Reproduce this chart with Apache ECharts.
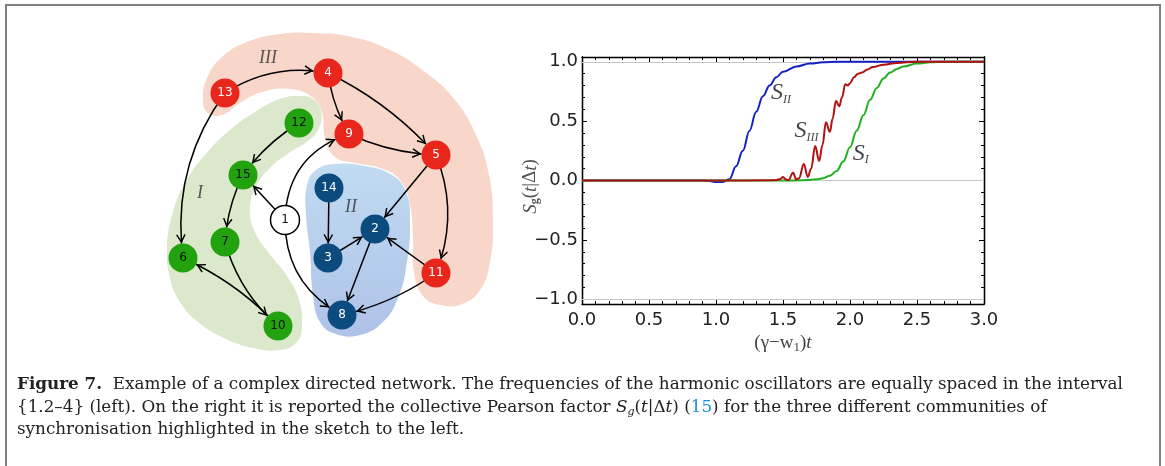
<!DOCTYPE html>
<html>
<head>
<meta charset="utf-8">
<script src="https://cdn.jsdelivr.net/npm/echarts@6/dist/echarts.min.js"></script>
<style>
html, body { margin: 0; padding: 0; background: #fff; }
#chart { width: 1165px; height: 466px; }
</style>
</head>
<body>
<div id="chart"></div>
<script>
// ---- right panel: collective Pearson factor S_g(t|dt) per community ----
const sIIx = [0, 0.5, 0.9, 0.95, 1.0, 1.05, 1.1, 1.15, 1.2, 1.25, 1.3, 1.35, 1.4, 1.45, 1.5, 1.6, 1.7, 1.8, 1.9, 2.2, 3.0];
const sIIy = [0, 0, 0, -0.004, -0.013, -0.012, 0.01, 0.12, 0.25, 0.42, 0.58, 0.71, 0.8, 0.87, 0.915, 0.96, 0.985, 0.995, 1.0, 1.0, 1.0];

const sIx = [0, 1.5, 1.65, 1.7, 1.75, 1.8, 1.85, 1.9, 1.95, 2.0, 2.05, 2.1, 2.15, 2.2, 2.25, 2.3, 2.35, 2.4, 2.5, 2.6, 2.7, 3.0];
const sIy = [0, 0, 0.002, 0.005, 0.01, 0.02, 0.04, 0.08, 0.16, 0.28, 0.42, 0.55, 0.68, 0.78, 0.86, 0.91, 0.94, 0.96, 0.985, 0.995, 1.0, 1.0];

const sIIIx = [0, 1.0, 1.4, 1.45, 1.48, 1.5, 1.52, 1.54, 1.575, 1.6, 1.62, 1.655, 1.685, 1.71, 1.74, 1.77, 1.795, 1.82, 1.85, 1.87, 1.895, 1.92, 1.94, 1.965, 1.985, 2.0, 2.03, 2.06, 2.09, 2.13, 2.17, 2.25, 2.35, 2.5, 3.0];
const sIIIy = [0, 0, 0.002, 0.004, 0.012, 0.03, 0.01, 0.002, 0.065, 0.008, 0.02, 0.14, 0.03, 0.1, 0.29, 0.165, 0.3, 0.49, 0.41, 0.52, 0.67, 0.625, 0.7, 0.81, 0.8, 0.82, 0.87, 0.9, 0.91, 0.935, 0.955, 0.975, 0.99, 1.0, 1.0];

const yMajor = [-1, -0.5, 0, 0.5, 1];
const yMinor = [-1, -0.9, -0.8, -0.7, -0.6, -0.5, -0.4, -0.3, -0.2, -0.1, 0, 0.1, 0.2, 0.3, 0.4, 0.5, 0.6, 0.7, 0.8, 0.9, 1];
const refLines = [1, 0, -1];

// curve labels: subscript, x, y
const curveLabelKey = ['II', 'III', 'I'];
const curveLabelX = [1.41, 1.585, 2.02];
const curveLabelY = [0.74, 0.42, 0.23];

// ---- left panel: directed network ----
const nodeIds = ['13', '4', '12', '9', '5', '15', '14', '1', '2', '7', '6', '3', '11', '8', '10'];
const nodeX = [225, 328, 299, 349, 436, 243, 329, 285, 375, 225, 183, 328, 436, 342, 278];
const nodeY = [93, 73, 123, 134, 155, 175, 188, 220, 229, 242, 258, 258, 273, 315, 326];
const nodeGroup = ['III', 'III', 'I', 'III', 'III', 'I', 'II', '-', 'II', 'I', 'I', 'II', 'III', 'II', 'I'];

const edgeFrom = ['13', '13', '4', '4', '9', '12', '15', '1', '1', '1', '14', '3', '5', '2', '11', '11', '5', '7', '10'];
const edgeTo   = ['4', '6', '9', '5', '5', '15', '7', '15', '9', '8', '3', '2', '2', '8', '2', '8', '11', '10', '6'];
const edgeBend = [0.2, -0.2, -0.1, 0.1, -0.1, -0.1, -0.1, 0, 0.35, -0.3, 0, 0, 0, 0, 0, 0.1, 0.2, -0.15, -0.1];

// community shading outlines
const blobGroup = ['III', 'I', 'II'];
const blobOutline = [
  [[203, 100], [207, 78], [222, 57], [247, 42], [280, 34], [315, 33], [352, 37], [390, 50], [425, 72], [455, 100], [476, 135], [489, 175], [493, 220], [490, 262], [480, 290], [462, 304], [440, 305], [423, 296], [414, 272], [413, 238], [410, 205], [400, 180], [380, 168], [355, 163], [335, 157], [325, 138], [322, 113], [312, 97], [290, 89], [262, 92], [240, 103], [222, 115], [208, 113]],
  [[297, 96], [313, 99], [321, 112], [319, 128], [308, 141], [289, 153], [271, 167], [257, 185], [250, 207], [254, 230], [268, 252], [287, 276], [299, 300], [302, 325], [297, 342], [280, 350], [253, 348], [224, 338], [198, 322], [180, 302], [170, 278], [167, 248], [172, 215], [185, 183], [205, 155], [230, 130], [258, 110], [280, 99]],
  [[307, 185], [316, 170], [335, 164], [365, 166], [392, 175], [406, 192], [410, 222], [407, 262], [398, 298], [383, 322], [360, 335], [336, 334], [320, 322], [313, 295], [310, 252], [306, 215]]
];

const romanText = ['III', 'I', 'II'];
const romanX = [268, 200, 351];
const romanY = [58, 193, 207];

const groupColor = { I: '#22a20f', II: '#0b4b7d', III: '#e8261c', '-': '#ffffff' };
const groupText = { I: '#111', II: '#fff', III: '#fff', '-': '#111' };
const blobFill = {
  III: '#f8d6c9',
  I: '#dbe8cb',
  II: { type: 'linear', x: 0, y: 0, x2: 0, y2: 1, colorStops: [{ offset: 0, color: '#c1dbf1' }, { offset: 1, color: '#aec2e8' }] }
};

// open chevron arrow with its tip at the symbol centre
const ARROW = 'path://M0,-10L0,-10M-10,0L-10,0M10,0L10,0M0,10L0,10M0,0L4.8,8.6L3.6,9.4L0,3L-3.6,9.4L-4.8,8.6Z';

const SERIF = '"Liberation Serif", "DejaVu Serif", serif';
const CAPTION = '"DejaVu Serif", serif';
const SANS = '"DejaVu Sans", sans-serif';
const CAP_SIZE = 16.8;

const pair = (xs, ys) => xs.map((x, i) => [x, ys[i]]);
const fmt = v => (v < 0 ? '\u2212' : '') + Math.abs(v).toFixed(1);

const subRich = {
  s: { fontFamily: SERIF, fontStyle: 'italic', fontSize: 24, lineHeight: 26, color: '#111' },
  r: { fontFamily: SERIF, fontStyle: 'italic', fontSize: 12, lineHeight: 12, color: '#111', verticalAlign: 'bottom' }
};

const chart = echarts.init(document.getElementById('chart'));

const frameAxis = {
  axisLine: { show: true, onZero: false, lineStyle: { color: '#000', width: 1.3 } },
  splitLine: { show: false }
};

chart.setOption({
  animation: false,
  grid: [
    { left: 582, top: 57, width: 402, height: 247 },
    { left: 150, top: 40, width: 360, height: 310, show: false }
  ],
  xAxis: [
    Object.assign({
      gridIndex: 0, type: 'value', position: 'bottom', min: 0, max: 3, interval: 0.5,
      axisTick: { inside: true, length: 5, lineStyle: { color: '#000' } },
      minorTick: { show: true, splitNumber: 5, length: 3, lineStyle: { color: '#000' } },
      minorSplitLine: { show: false },
      axisLabel: { margin: 7, fontFamily: SANS, fontSize: 18, color: '#222', formatter: fmt },
      name: '{n|(\u03b3\u2212w}{d|1}{n|)}{i|t}',
      nameLocation: 'middle', nameGap: 27,
      nameTextStyle: {
        rich: {
          n: { fontFamily: SERIF, fontSize: 19, color: '#444', lineHeight: 22 },
          d: { fontFamily: SERIF, fontSize: 13, color: '#444', lineHeight: 14, verticalAlign: 'bottom' },
          i: { fontFamily: SERIF, fontStyle: 'italic', fontSize: 19, color: '#444', lineHeight: 22 }
        }
      }
    }, frameAxis),
    Object.assign({
      gridIndex: 0, type: 'value', position: 'top', min: 0, max: 3, interval: 0.5,
      axisTick: { inside: true, length: 5, lineStyle: { color: '#000' } },
      minorTick: { show: true, splitNumber: 5, length: 3, lineStyle: { color: '#000' } },
      axisLabel: { show: false }
    }, frameAxis),
    { gridIndex: 1, type: 'value', min: 150, max: 510, show: false }
  ],
  yAxis: [
    Object.assign({
      gridIndex: 0, type: 'value', position: 'left', min: -1.04, max: 1.04,
      axisTick: { inside: true, length: 5, customValues: yMajor, lineStyle: { color: '#000' } },
      axisLabel: { margin: 4, fontFamily: SANS, fontSize: 18, color: '#222', customValues: yMajor, formatter: fmt },
      name: '{i|S}{g|g}{n|(}{i|t}{n||\u0394}{i|t}{n|)}',
      nameLocation: 'middle', nameRotate: 90, nameGap: 41, nameMoveOverlap: false,
      nameTextStyle: {
        padding: [0, 12, 0, 0],
        rich: {
          i: { fontFamily: SERIF, fontStyle: 'italic', fontSize: 19, color: '#555', lineHeight: 21 },
          n: { fontFamily: SERIF, fontSize: 19, color: '#555', lineHeight: 21 },
          g: { fontFamily: SERIF, fontWeight: 'bold', fontSize: 12, color: '#555', lineHeight: 13, verticalAlign: 'bottom' }
        }
      }
    }, frameAxis),
    Object.assign({
      gridIndex: 0, type: 'value', position: 'left', min: -1.04, max: 1.04,
      axisTick: { inside: true, length: 3, customValues: yMinor, lineStyle: { color: '#000' } },
      axisLabel: { show: false }
    }, frameAxis),
    Object.assign({
      gridIndex: 0, type: 'value', position: 'right', min: -1.04, max: 1.04,
      axisTick: { inside: true, length: 5, customValues: yMajor, lineStyle: { color: '#000' } },
      axisLabel: { show: false }
    }, frameAxis),
    Object.assign({
      gridIndex: 0, type: 'value', position: 'right', min: -1.04, max: 1.04,
      axisTick: { inside: true, length: 3, customValues: yMinor, lineStyle: { color: '#000' } },
      axisLabel: { show: false }
    }, frameAxis),
    { gridIndex: 1, type: 'value', min: 40, max: 350, inverse: true, show: false }
  ],
  graphic: [
    { type: 'rect', shape: { x: 6, y: 5, width: 1154, height: 500 }, style: { fill: 'none', stroke: '#808080', lineWidth: 2 }, silent: true },
    {
      type: 'text', x: 17, y: 385, silent: true,
      style: {
        text: '{b|Figure 7.}  Example of a complex directed network. The frequencies of the harmonic oscillators are equally spaced in the interval',
        fontFamily: CAPTION, fontSize: CAP_SIZE, fill: '#222', verticalAlign: 'middle',
        rich: { b: { fontFamily: CAPTION, fontSize: CAP_SIZE, fontWeight: 'bold', fill: '#222' } }
      }
    },
    {
      type: 'text', x: 17, y: 408, silent: true,
      style: {
        text: '{1.2\u20134} (left). On the right it is reported the collective Pearson factor {i|S}{g|g}{n|(}{i|t}{n||\u0394}{i|t}{n|)} ({l|15}) for the three different communities of',
        fontFamily: CAPTION, fontSize: CAP_SIZE, fill: '#222', verticalAlign: 'middle',
        rich: {
          i: { fontFamily: CAPTION, fontStyle: 'italic', fontSize: CAP_SIZE, fill: '#222', lineHeight: 20 },
          n: { fontFamily: CAPTION, fontSize: CAP_SIZE, fill: '#222', lineHeight: 20 },
          g: { fontFamily: CAPTION, fontStyle: 'italic', fontSize: 11, fill: '#222', lineHeight: 14, verticalAlign: 'bottom' },
          l: { fontFamily: CAPTION, fontSize: CAP_SIZE, fill: '#1a8fd6', lineHeight: 20 }
        }
      }
    },
    {
      type: 'text', x: 17, y: 430, silent: true,
      style: {
        text: 'synchronisation highlighted in the sketch to the left.',
        fontFamily: CAPTION, fontSize: CAP_SIZE, fill: '#222', verticalAlign: 'middle'
      }
    }
  ],
  series: [
    {
      type: 'line', xAxisIndex: 0, yAxisIndex: 0, z: 2,
      data: pair(sIIx, sIIy), showSymbol: false, smooth: 0.4, smoothMonotone: 'x',
      lineStyle: { color: '#1322c4', width: 2 }, silent: true,
      markLine: {
        z: 1, silent: true, symbol: 'none', label: { show: false },
        lineStyle: { color: '#c6c6c6', width: 1, type: 'solid' },
        data: refLines.map(v => ({ yAxis: v }))
      }
    },
    {
      type: 'line', xAxisIndex: 0, yAxisIndex: 0, z: 2,
      data: pair(sIx, sIy), showSymbol: false, smooth: 0.4, smoothMonotone: 'x',
      lineStyle: { color: '#22b022', width: 2 }, silent: true
    },
    {
      type: 'line', xAxisIndex: 0, yAxisIndex: 0, z: 2,
      data: pair(sIIIx, sIIIy), showSymbol: false, smooth: 0.4, smoothMonotone: 'x',
      lineStyle: { color: '#b01212', width: 2 }, silent: true
    },
    {
      type: 'scatter', xAxisIndex: 0, yAxisIndex: 0, z: 4, symbolSize: 0, silent: true,
      data: curveLabelKey.map((k, i) => [curveLabelX[i], curveLabelY[i]]),
      label: {
        show: true, position: 'inside', align: 'left', verticalAlign: 'middle',
        formatter: p => '{s|S}{r|' + curveLabelKey[p.dataIndex] + '}',
        rich: subRich
      }
    },
    {
      type: 'custom', coordinateSystem: 'cartesian2d', xAxisIndex: 2, yAxisIndex: 4, z: 1, silent: true, clip: false,
      data: blobGroup.map((g, i) => [i]),
      renderItem: (params, api) => {
        const i = params.dataIndex;
        return {
          type: 'polygon',
          shape: { points: blobOutline[i].map(p => api.coord(p)), smooth: 0.45 },
          style: { fill: blobFill[blobGroup[i]] }
        };
      }
    },
    {
      type: 'scatter', xAxisIndex: 2, yAxisIndex: 4, z: 2, symbolSize: 0, silent: true,
      data: romanText.map((t, i) => [romanX[i], romanY[i]]),
      label: {
        show: true, position: 'inside', formatter: p => romanText[p.dataIndex],
        fontFamily: SERIF, fontStyle: 'italic', fontSize: 18, color: '#333'
      }
    },
    {
      type: 'graph', coordinateSystem: 'cartesian2d', xAxisIndex: 2, yAxisIndex: 4, z: 3,
      layout: 'none', silent: true,
      symbol: 'circle', symbolSize: 29,
      edgeSymbol: ['none', ARROW], edgeSymbolSize: 20,
      lineStyle: { color: '#000', width: 1.5, opacity: 1 },
      label: { show: true, position: 'inside', fontFamily: SANS, fontSize: 12 },
      data: nodeIds.map((id, i) => ({
        name: id,
        value: [nodeX[i], nodeY[i]],
        itemStyle: {
          color: groupColor[nodeGroup[i]],
          borderColor: nodeGroup[i] === '-' ? '#000' : '#fff',
          borderWidth: nodeGroup[i] === '-' ? 1.5 : 0
        },
        label: { color: groupText[nodeGroup[i]] }
      })),
      links: edgeFrom.map((f, i) => ({ source: f, target: edgeTo[i], lineStyle: { curveness: edgeBend[i] } }))
    }
  ]
});

window.addEventListener('resize', () => chart.resize());
</script>
</body>
</html>
